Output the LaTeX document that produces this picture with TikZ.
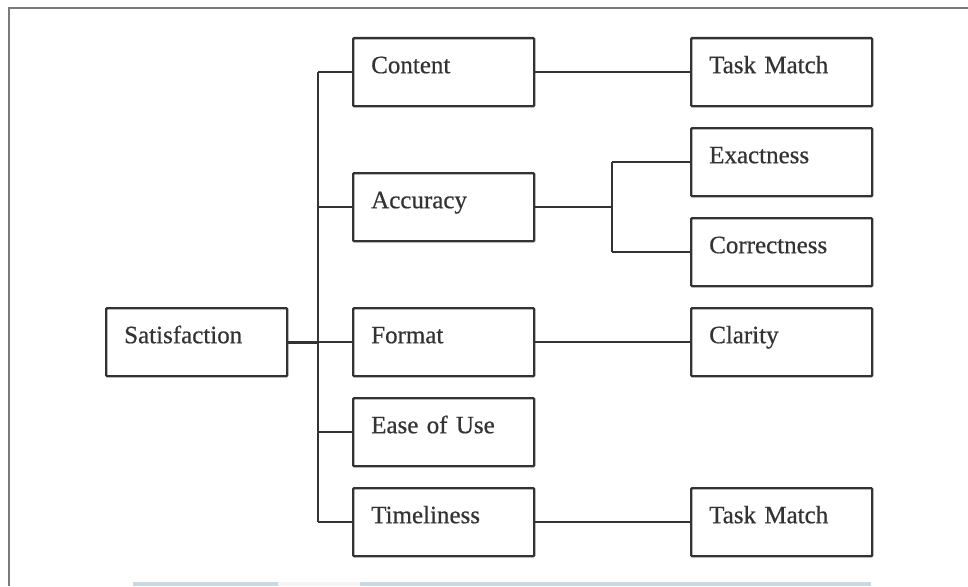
\documentclass[tikz,border=0pt]{standalone}
\usepackage{fontspec}
\setmainfont{Liberation Serif}
\newfontfamily\boxfont[FakeBold=0.6]{Liberation Serif}
\definecolor{linegray}{HTML}{333333}
\definecolor{framegray}{HTML}{7A7A7A}
\definecolor{barblue}{HTML}{C9D8E3}
\begin{document}
\begin{tikzpicture}[x=1pt,y=-1pt,
  box/.style={draw=linegray, line width=2.4pt, rounded corners=1pt, anchor=north west,
    inner xsep=18pt, inner ysep=0pt, text width=145pt, align=left,
    text height=35pt, text depth=33pt, text=linegray,
    font=\boxfont\fontsize{25}{30}\selectfont},
  link/.style={draw=linegray, line width=2pt}]
\useasboundingbox (0,0) rectangle (968,586);
% Page frame and bar at the bottom
\draw[framegray, line width=2pt] (9,586) -- (9,8) -- (968,8);
\fill[barblue] (133,582) rectangle (871,586);
\fill[black!4] (278,582) rectangle (360,586);
% Boxes
\node[box] (sat) at (105,307) {Satisfaction};
\node[box] (content) at (352,37) {Content};
\node[box] (accuracy) at (352,172) {Accuracy};
\node[box] (format) at (352,307) {Format};
\node[box] (ease) at (352,397) {Ease of Use};
\node[box] (time) at (352,487) {Timeliness};
\node[box] (taskA) at (690,37) {Task Match};
\node[box] (exact) at (690,127) {Exactness};
\node[box] (correct) at (690,217) {Correctness};
\node[box] (clarity) at (690,307) {Clarity};
\node[box] (taskB) at (690,487) {Task Match};
% Trunk from Satisfaction
\coordinate (trunk) at (318,0);
\draw[link, line width=2.8pt] (sat.east) -- (sat.east -| trunk);
\draw[link] (content.west -| trunk) -- (time.west -| trunk);
\foreach \n in {content,accuracy,format,ease,time}
  \draw[link] (\n.west -| trunk) -- (\n.west);
% Second level
\draw[link] (content) -- (taskA);
\draw[link] (format) -- (clarity);
\draw[link] (time) -- (taskB);
\coordinate (fork) at (612,0);
\draw[link] (accuracy.east) -- (accuracy.east -| fork);
\draw[link] (exact.west -| fork) -- (correct.west -| fork);
\draw[link] (exact.west -| fork) -- (exact.west);
\draw[link] (correct.west -| fork) -- (correct.west);
\end{tikzpicture}
\end{document}
